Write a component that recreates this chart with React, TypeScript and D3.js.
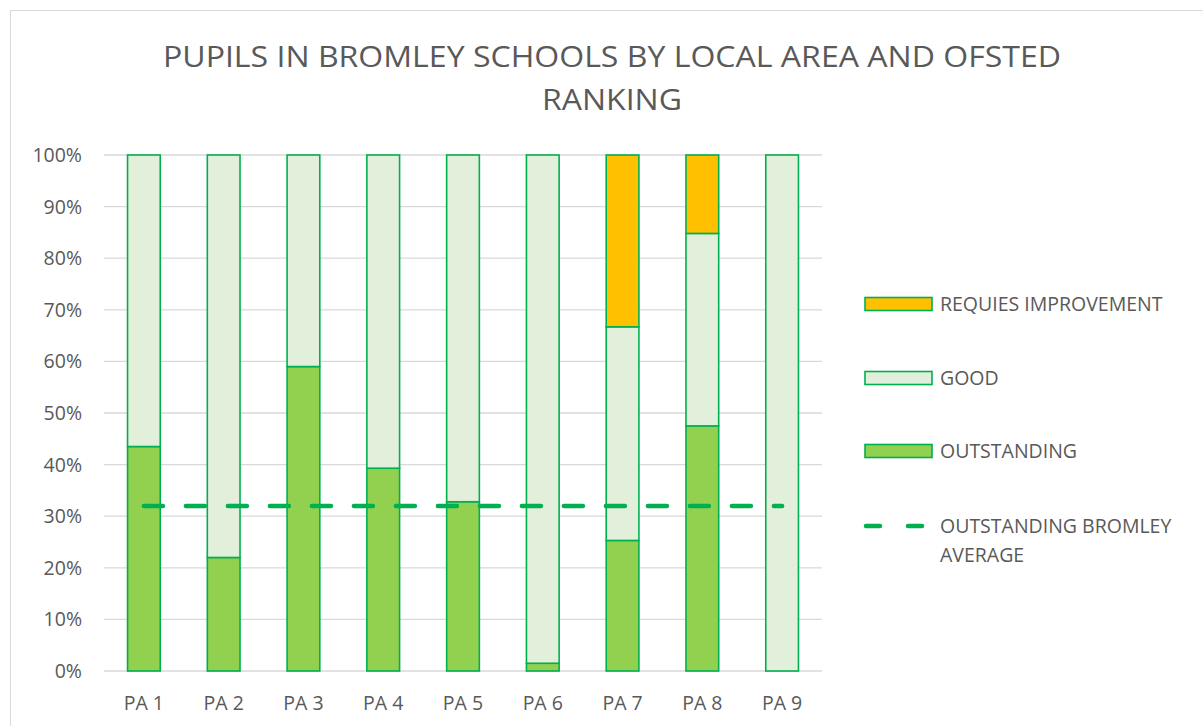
import React from "react";
import * as d3 from "d3";

const categories = ["PA 1", "PA 2", "PA 3", "PA 4", "PA 5", "PA 6", "PA 7", "PA 8", "PA 9"];
const outstanding = [0.435, 0.22, 0.59, 0.393, 0.328, 0.015, 0.253, 0.475, 0];
const good = [0.565, 0.78, 0.41, 0.607, 0.672, 0.985, 0.414, 0.373, 1];
const requiresImprovement = [0, 0, 0, 0, 0, 0, 0.333, 0.152, 0];
const bromleyAverage = 0.32;
const yTicks = [0, 0.1, 0.2, 0.3, 0.4, 0.5, 0.6, 0.7, 0.8, 0.9, 1];

const seriesNames = ["OUTSTANDING", "GOOD", "REQUIES IMPROVEMENT"];
const colors: Record<string, string> = {
  OUTSTANDING: "#92D050",
  GOOD: "#E2EFDA",
  "REQUIES IMPROVEMENT": "#FFC000",
};
const lineColor = "#00B050";
const textColor = "#595959";
const font = "'Open Sans', 'Liberation Sans', Arial, sans-serif";

export default function App() {
  const width = 1203;
  const height = 726;
  const plot = { left: 104, right: 822, top: 155, bottom: 671 };

  const x = d3.scaleBand().domain(categories).range([plot.left, plot.right]);
  const y = d3.scaleLinear().domain([0, 1]).range([plot.bottom, plot.top]);
  const barW = x.bandwidth() * 0.41;

  const table = categories.map((c, i) => ({
    cat: c,
    OUTSTANDING: outstanding[i],
    GOOD: good[i],
    "REQUIES IMPROVEMENT": requiresImprovement[i],
  }));
  const stacked = d3.stack<any>().keys(seriesNames)(table);

  const cx = (c: string) => (x(c) as number) + x.bandwidth() / 2;

  // legend rows, top to bottom
  const legendItems = [
    { name: "REQUIES IMPROVEMENT", y: 304 },
    { name: "GOOD", y: 378 },
    { name: "OUTSTANDING", y: 451 },
  ];

  return (
    <svg
      width={width}
      height={height}
      style={{ position: "absolute", left: 0, top: 0, background: "#fff" }}
      fontFamily={font}
    >
      <rect x={10.5} y={10.5} width={width + 20} height={height + 20} fill="#fff" stroke="#D9D9D9" />
      <text x={612} y={67} textAnchor="middle" fontSize={30} fill={textColor} textLength={898} lengthAdjust="spacingAndGlyphs">
        PUPILS IN BROMLEY SCHOOLS BY LOCAL AREA AND OFSTED
      </text>
      <text x={612} y={110} textAnchor="middle" fontSize={30} fill={textColor} textLength={140} lengthAdjust="spacingAndGlyphs">
        RANKING
      </text>

      {yTicks.map((t) => (
        <g key={t}>
          <line x1={plot.left} x2={plot.right} y1={y(t)} y2={y(t)} stroke="#D9D9D9" strokeWidth={1.3} />
          <text x={82} y={y(t)} dy="0.36em" textAnchor="end" fontSize={19.5} fill={textColor}>
            {`${Math.round(t * 100)}%`}
          </text>
        </g>
      ))}

      {stacked.map((s) => (
        <g key={s.key}>
          {s.map((d, i) =>
            d[1] - d[0] > 0 ? (
              <rect
                key={i}
                x={cx(categories[i]) - barW / 2}
                y={y(d[1])}
                width={barW}
                height={y(d[0]) - y(d[1])}
                fill={colors[s.key]}
                stroke={lineColor}
                strokeWidth={1.6}
              />
            ) : null
          )}
        </g>
      ))}

      <line
        x1={cx(categories[0])}
        x2={cx(categories[categories.length - 1])}
        y1={y(bromleyAverage)}
        y2={y(bromleyAverage)}
        stroke={lineColor}
        strokeWidth={4.5}
        strokeLinecap="round"
        strokeDasharray="19,23"
      />

      {categories.map((c) => (
        <text key={c} x={cx(c)} y={710} textAnchor="middle" fontSize={19.5} fill={textColor}>
          {c}
        </text>
      ))}

      {legendItems.map((l) => (
        <g key={l.name}>
          <rect x={865} y={l.y - 6.5} width={67} height={13} fill={colors[l.name]} stroke={lineColor} strokeWidth={1.6} />
          <text x={940} y={l.y} dy="0.36em" fontSize={19.5} fill={textColor}>
            {l.name}
          </text>
        </g>
      ))}
      <line x1={866} x2={929} y1={526} y2={526} stroke={lineColor} strokeWidth={4.5} strokeLinecap="round" strokeDasharray="14,28" />
      <text x={940} y={526} dy="0.36em" fontSize={19.5} fill={textColor}>
        OUTSTANDING BROMLEY
      </text>
      <text x={940} y={555} dy="0.36em" fontSize={19.5} fill={textColor}>
        AVERAGE
      </text>
    </svg>
  );
}
